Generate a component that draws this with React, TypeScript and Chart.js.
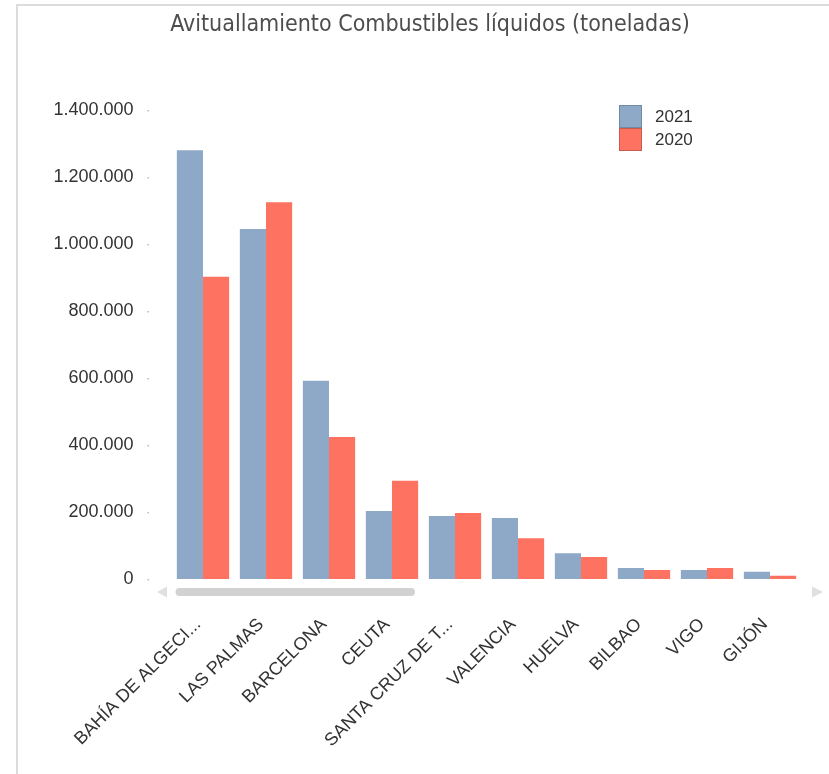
import React, { useEffect, useRef } from "react";
import { Chart, registerables } from "chart.js";

Chart.register(...registerables);

const TITLE = "Avituallamiento Combustibles líquidos (toneladas)";
const categories = [
  "BAHÍA DE ALGECI...",
  "LAS PALMAS",
  "BARCELONA",
  "CEUTA",
  "SANTA CRUZ DE T...",
  "VALENCIA",
  "HUELVA",
  "BILBAO",
  "VIGO",
  "GIJÓN",
];
const seriesNames = ["2021", "2020"];
const values2021 = [1280000, 1045000, 592000, 203000, 188000, 182000, 77000, 33000, 27000, 22000];
const values2020 = [902000, 1125000, 424000, 293000, 197000, 122000, 66000, 27000, 33000, 10000];
const yMax = 1400000;
const yStep = 200000;

const COLORS = ["#8ea9c8", "#fe7262"];
const BORDERS = ["#7188a6", "#c95a4e"];

function fmt(v: number): string {
  const s = Math.round(v).toString();
  return s.replace(/\B(?=(\d{3})+(?!\d))/g, ".");
}

const decorPlugin = {
  id: "decor",
  beforeDraw(chart: any) {
    const ctx = chart.ctx;
    ctx.save();
    ctx.fillStyle = "#dcdcdc";
    ctx.fillRect(16, 4, chart.width - 16, 2);
    ctx.fillRect(16, 4, 2, chart.height - 4);
    ctx.restore();
  },
  afterDraw(chart: any) {
    const ctx = chart.ctx;
    const area = chart.chartArea;
    const y = chart.scales.y;
    ctx.save();
    // title
    ctx.font = "23px 'Liberation Sans Narrow', 'DejaVu Sans Condensed', sans-serif";
    ctx.fillStyle = "#4d4d4d";
    ctx.textAlign = "center";
    ctx.textBaseline = "alphabetic";
    ctx.fillText(TITLE, 430, 31);
    // y tick dots
    ctx.fillStyle = "#bbbbbb";
    y.ticks.forEach((t: any) => {
      const py = y.getPixelForValue(t.value);
      ctx.fillRect(area.left - 24, Math.round(py), 1.5, 1.5);
    });
    // scrollbar
    const sy = area.bottom + 13;
    const x0 = area.left + 4;
    const x1 = 415;
    const h = 8;
    ctx.fillStyle = "#d2d2d2";
    ctx.beginPath();
    ctx.moveTo(x0 + h / 2, sy - h / 2);
    ctx.lineTo(x1 - h / 2, sy - h / 2);
    ctx.arc(x1 - h / 2, sy, h / 2, -Math.PI / 2, Math.PI / 2);
    ctx.lineTo(x0 + h / 2, sy + h / 2);
    ctx.arc(x0 + h / 2, sy, h / 2, Math.PI / 2, (3 * Math.PI) / 2);
    ctx.fill();
    // arrows
    ctx.fillStyle = "#e0e0e0";
    ctx.beginPath();
    ctx.moveTo(157, sy);
    ctx.lineTo(167, sy - 5.5);
    ctx.lineTo(167, sy + 5.5);
    ctx.closePath();
    ctx.fill();
    ctx.beginPath();
    ctx.moveTo(823, sy);
    ctx.lineTo(812, sy - 5.5);
    ctx.lineTo(812, sy + 5.5);
    ctx.closePath();
    ctx.fill();
    // legend
    const lx = 619;
    let ly = 105;
    const bs = 23;
    ctx.font = "17px 'Liberation Sans', Arial, sans-serif";
    ctx.textBaseline = "middle";
    ctx.textAlign = "left";
    chart.data.datasets.forEach((ds: any, i: number) => {
      ctx.fillStyle = ds.backgroundColor;
      ctx.fillRect(lx, ly, bs, bs);
      ctx.strokeStyle = BORDERS[i];
      ctx.lineWidth = 1;
      ctx.strokeRect(lx + 0.5, ly + 0.5, bs - 1, bs - 1);
      ctx.fillStyle = "#333333";
      ctx.fillText(ds.label, 655, ly + bs / 2 + 1);
      ly += bs;
    });
    ctx.restore();
  },
};

export default function App() {
  const ref = useRef<HTMLCanvasElement | null>(null);
  useEffect(() => {
    if (!ref.current) return;
    const chart = new Chart(ref.current, {
      type: "bar",
      data: {
        labels: categories,
        datasets: [
          { label: seriesNames[0], data: values2021, backgroundColor: COLORS[0], borderWidth: 0 },
          { label: seriesNames[1], data: values2020, backgroundColor: COLORS[1], borderWidth: 0 },
        ],
      },
      options: {
        animation: false,
        responsive: false,
        maintainAspectRatio: false,
        layout: { padding: { left: 0, right: 27.5, top: 110, bottom: 0 } },
        datasets: { bar: { categoryPercentage: 0.83, barPercentage: 1.0 } },
        plugins: {
          legend: { display: false },
          tooltip: { enabled: false },
          title: { display: false },
        },
        scales: {
          x: {
            grid: { display: false, drawTicks: false },
            border: { display: false },
            ticks: {
              autoSkip: false,
              maxRotation: 45,
              minRotation: 45,
              padding: 35,
              labelOffset: -5,
              color: "#333333",
              font: { family: "'Liberation Sans', Arial, sans-serif", size: 18 },
            },
            afterFit(scale: any) {
              scale.height = 195;
            },
          },
          y: {
            min: 0,
            max: yMax,
            grid: { display: false, drawTicks: false },
            border: { display: false },
            ticks: {
              stepSize: yStep,
              padding: 38,
              color: "#333333",
              font: { family: "'Liberation Sans', Arial, sans-serif", size: 18 },
              callback: (v: any) => fmt(Number(v)),
            },
            afterFit(scale: any) {
              scale.width = 171.5;
            },
          },
        },
      },
      plugins: [decorPlugin],
    });
    return () => chart.destroy();
  }, []);
  return (
    <div style={{ position: "absolute", left: 0, top: 0, width: 829, height: 774, background: "#fff" }}>
      <canvas ref={ref} width={829} height={774} style={{ display: "block", width: 829, height: 774 }} />
    </div>
  );
}
